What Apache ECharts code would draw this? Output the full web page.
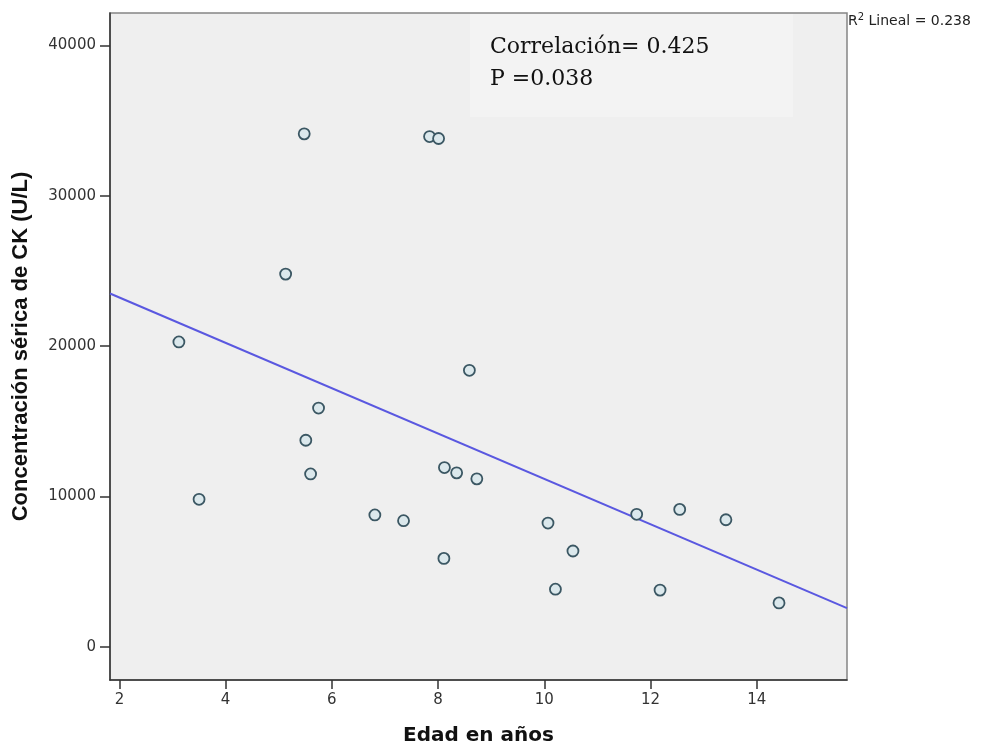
<!DOCTYPE html>
<html>
<head>
<meta charset="utf-8">
<script src="https://cdn.jsdelivr.net/npm/echarts@6/dist/echarts.min.js"></script>
<style>
html,body{margin:0;padding:0;background:#fff;}
#chart{width:984px;height:749px;}
</style>
</head>
<body>
<div id="chart"></div>
<script>
// Data
var edad = [5.48, 7.84, 8.01, 5.13, 3.12, 8.59, 5.75, 5.51, 5.60, 3.50, 8.12, 8.35, 8.73, 6.81, 7.35, 8.11, 10.07, 10.54, 10.21, 11.74, 12.55, 13.42, 12.18, 14.42];
var ck = [34110, 33930, 33800, 24780, 20270, 18380, 15870, 13730, 11490, 9800, 11910, 11560, 11160, 8760, 8380, 5870, 8220, 6360, 3820, 8800, 9130, 8440, 3760, 2910];
// Fit line end points
var lineX = [1.823, 15.70];
var lineY = [23490, 2560];
var xTicks = [2, 4, 6, 8, 10, 12, 14];
var yTicks = [0, 10000, 20000, 30000, 40000];
var xRange = [1.823, 15.70];
var yRange = [-2220, 42150];
var xTitle = 'Edad en años';
var yTitle = 'Concentración sérica de CK (U/L)';
var statLines = ['Correlación= 0.425', 'P =0.038'];
var r2Text = 'Lineal = 0.238';

var points = edad.map(function (x, i) { return [x, ck[i]]; });
var fitLine = lineX.map(function (x, i) { return [x, lineY[i]]; });
var plain = function (v) { return String(v); };

var chart = echarts.init(document.getElementById('chart'), null, {renderer: 'canvas'});
chart.setOption({
  animation: false,
  backgroundColor: '#ffffff',
  grid: {
    left: 110, top: 13, right: 137, bottom: 69,
    containLabel: false,
    outerBoundsMode: 'none',
    show: true,
    backgroundColor: '#efefef',
    borderColor: '#858585',
    borderWidth: 1.5
  },
  xAxis: {
    type: 'value',
    min: xRange[0], max: xRange[1],
    name: xTitle,
    nameLocation: 'middle',
    nameGap: 46,
    nameTextStyle: {fontFamily: 'DejaVu Sans', fontWeight: 'bold', fontSize: 20, color: '#111'},
    axisLine: {show: true, onZero: false, lineStyle: {color: '#333', width: 1.5}},
    axisTick: {show: true, length: 9, customValues: xTicks, lineStyle: {color: '#333', width: 1.5}},
    axisLabel: {customValues: xTicks, formatter: plain, margin: 13, fontFamily: 'DejaVu Sans', fontSize: 15, color: '#333'},
    splitLine: {show: false}
  },
  yAxis: {
    type: 'value',
    min: yRange[0], max: yRange[1],
    name: yTitle,
    nameLocation: 'middle',
    nameGap: 78,
    nameTextStyle: {fontFamily: 'Liberation Sans', fontWeight: 'bold', fontSize: 22, color: '#111'},
    axisLine: {show: true, onZero: false, lineStyle: {color: '#333', width: 1.5}},
    axisTick: {show: true, length: 10, customValues: yTicks, lineStyle: {color: '#333', width: 1.5}},
    axisLabel: {customValues: yTicks, formatter: plain, margin: 14, fontFamily: 'DejaVu Sans', fontSize: 15, color: '#333'},
    splitLine: {show: false}
  },
  graphic: [
    {type: 'rect', z: 1, shape: {x: 470, y: 14, width: 323, height: 103}, style: {fill: '#f3f3f3'}},
    {type: 'text', z: 5, x: 490, y: 47, style: {text: statLines[0], font: '22px "DejaVu Serif"', fill: '#111', verticalAlign: 'middle'}},
    {type: 'text', z: 5, x: 490, y: 79, style: {text: statLines[1], font: '22px "DejaVu Serif"', fill: '#111', verticalAlign: 'middle'}},
    {type: 'text', z: 5, x: 848, y: 20, style: {
      text: '{r|R}{s|2}{r| ' + r2Text + '}',
      verticalAlign: 'middle',
      rich: {
        r: {fontFamily: 'DejaVu Sans', fontSize: 14, fill: '#222', verticalAlign: 'bottom'},
        s: {fontFamily: 'DejaVu Sans', fontSize: 10, fill: '#222', verticalAlign: 'top', padding: [0, 0, 6, 0]}
      }
    }}
  ],
  series: [
    {
      type: 'line',
      data: fitLine,
      symbol: 'none',
      lineStyle: {color: '#5a58e0', width: 2},
      z: 3,
      silent: true
    },
    {
      type: 'scatter',
      data: points,
      symbol: 'circle',
      symbolSize: 11,
      itemStyle: {color: '#dbe8ec', borderColor: '#3b5763', borderWidth: 1.8, opacity: 1},
      z: 4
    }
  ]
});
</script>
</body>
</html>
